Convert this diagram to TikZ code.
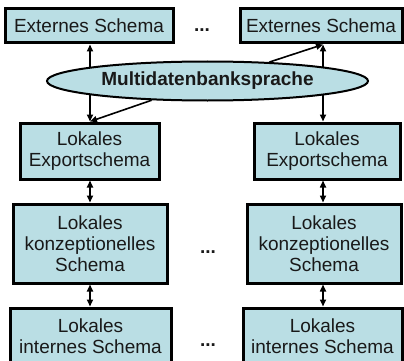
\documentclass[tikz,border=0pt]{standalone}
\usepackage{fontspec}
\setmainfont{Liberation Sans}
\usetikzlibrary{shapes.geometric,arrows.meta}
\definecolor{schemafill}{RGB}{186,222,228}
\definecolor{inkgray}{RGB}{25,25,25}

\begin{document}
\begin{tikzpicture}[x=1pt,y=-1pt,
  schemabox/.style={draw=black,line width=3pt,fill=schemafill,inner sep=0pt,
    align=center,text=inkgray,font=\fontsize{19}{21}\selectfont},
  langbox/.style={ellipse,draw=black,line width=2pt,fill=schemafill,inner sep=0pt,
    text=inkgray,font=\fontsize{19}{21}\selectfont\bfseries},
  tip/.tip={Triangle[length=7pt,width=6pt]},
  link/.style={line width=1.6pt,-tip},
  duallink/.style={line width=1.6pt,tip-tip},
  dots/.style={inner sep=0pt,text=inkgray,font=\fontsize{19}{21}\selectfont\bfseries}]
\useasboundingbox (0,0) rectangle (404,361);
\clip (0,0) rectangle (404,361);

% column axes for the vertical connectors
\coordinate (la) at (90,0);
\coordinate (ra) at (323,0);

% external schemas
\node[schemabox,minimum width=168pt,minimum height=34pt] (E1) at (89,26) {Externes Schema};
\node[schemabox,minimum width=162pt,minimum height=34pt] (E2) at (321,26) {Externes Schema};
\node[dots] (d1) at (202,30) {...};

% local export schemas
\node[schemabox,minimum width=139pt,minimum height=56pt] (X1) at (89.5,151) {Lokales\\Exportschema};
\node[schemabox,minimum width=146pt,minimum height=56pt] (X2) at (327,151) {Lokales\\Exportschema};

% local conceptual schemas
\node[schemabox,minimum width=154pt,minimum height=79pt] (K1) at (90,243.5) {Lokales\\konzeptionelles\\Schema};
\node[schemabox,minimum width=154pt,minimum height=79pt] (K2) at (324,243.5) {Lokales\\konzeptionelles\\Schema};
\node[dots] (d2) at (208,252) {...};

% local internal schemas
\node[schemabox,minimum width=161pt,minimum height=56pt] (I1) at (90.5,336) {Lokales\\internes Schema};
\node[schemabox,minimum width=159pt,minimum height=56pt] (I2) at (322.5,336) {Lokales\\internes Schema};
\node[dots] (d3) at (208,345) {...};

% mappings between external and export schemas (pass behind the language)
\draw[duallink] (E1.south -| la) -- (X1.north -| la);
\draw[duallink] (E2.south -| ra) -- (X2.north -| ra);

% multidatabase language
\node[langbox,minimum width=321pt,minimum height=39pt] (mdb) at (207.5,81) {Multidatenbanksprache};
\draw[link] (mdb.17) -- (E2.south -| ra);
\draw[link] (mdb.199) -- (X1.north -| la);

% mappings down each local stack
\draw[duallink] (X1.south -| la) -- (K1.north -| la);
\draw[duallink] (X2.south -| ra) -- (K2.north -| ra);
\draw[duallink] (K1.south -| la) -- (I1.north -| la);
\draw[duallink] (K2.south -| ra) -- (I2.north -| ra);
\end{tikzpicture}
\end{document}
